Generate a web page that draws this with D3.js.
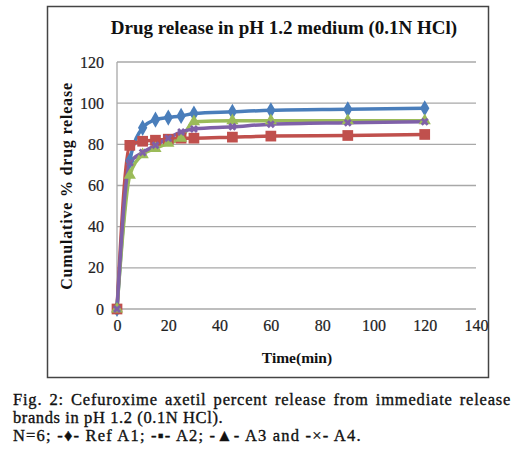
<!DOCTYPE html>
<html><head><meta charset="utf-8">
<script src="https://cdn.jsdelivr.net/npm/d3@7"></script>
<style>body{margin:0;background:#fff;} svg{display:block;}</style>
</head><body>
<script>
const times = [0, 5, 10, 15, 20, 25, 30, 45, 60, 90, 120];
const refA1 = [0, 72, 88, 92, 93, 93.8, 95, 95.8, 96.5, 97, 97.5];
const a2 = [0, 79.5, 81.5, 82, 82.5, 83, 83, 83.5, 84, 84.3, 84.8];
const a3 = [0, 65, 75, 78, 80.5, 83, 91, 91.5, 91.5, 91.5, 91.5];
const a4 = [0, 71, 76, 79.5, 83, 86, 87.5, 88.5, 89.8, 90.5, 91];
const seriesNames = ["Ref A1", "A2", "A3", "A4"];
const colors = ["#4a7ebb", "#c0504d", "#9bbb59", "#7f60a8"];
const yTicks = [0, 20, 40, 60, 80, 100, 120];
const xTicks = [0, 20, 40, 60, 80, 100, 120, 140];

const W = 532, H = 453;
const svg = d3.select("body").append("svg").attr("width", W).attr("height", H);
const serif = "'Liberation Serif','Times New Roman',serif";

svg.append("rect").attr("x", 47.5).attr("y", 6.5).attr("width", 441).attr("height", 371)
  .attr("fill", "#fff").attr("stroke", "#444").attr("stroke-width", 1.5);

const x = d3.scaleLinear().domain([0, 140]).range([117, 476]);
const y = d3.scaleLinear().domain([0, 120]).range([309, 62]);

svg.append("g").selectAll("line").data(yTicks).join("line")
  .attr("x1", x(0)).attr("x2", x(140)).attr("y1", d => y(d)).attr("y2", d => y(d))
  .attr("stroke", "#a8a8a8").attr("stroke-width", 1.3);
svg.append("line").attr("x1", x(0)).attr("x2", x(0)).attr("y1", y(0)).attr("y2", y(120))
  .attr("stroke", "#a8a8a8").attr("stroke-width", 1.3);

const yAxis = svg.append("g").attr("transform", `translate(${x(0)},0)`)
  .call(d3.axisLeft(y).tickValues(yTicks).tickSize(0).tickPadding(13));
const xAxis = svg.append("g").attr("transform", `translate(0,${y(0)})`)
  .call(d3.axisBottom(x).tickValues(xTicks).tickSize(0).tickPadding(11));
[yAxis, xAxis].forEach(a => {
  a.select(".domain").remove();
  a.selectAll("text").attr("font-family", serif).attr("font-size", 16).attr("fill", "#222")
    .attr("stroke", "#222").attr("stroke-width", 0.2);
});

const data = [refA1, a2, a3, a4];
const line = d3.line().x((d, i) => x(times[i])).y(d => y(d)).curve(d3.curveMonotoneX);
data.forEach((s, k) => {
  svg.append("path").datum(s).attr("d", line).attr("fill", "none")
    .attr("stroke", colors[k]).attr("stroke-width", 3.5).attr("stroke-linejoin", "round");
});
const sym = [d3.symbolDiamond, d3.symbolSquare, d3.symbolTriangle, d3.symbolCross];
const sizes = [75, 115, 65, 40];
data.forEach((s, k) => {
  const g = svg.append("g");
  g.selectAll("path").data(s).join("path")
    .attr("transform", (d, i) => `translate(${x(times[i])},${y(d)})` + (k === 3 ? " rotate(45)" : ""))
    .attr("d", d3.symbol().type(sym[k]).size(sizes[k]))
    .attr("fill", colors[k]);
});

svg.append("text").attr("x", 284).attr("y", 34).attr("text-anchor", "middle")
  .attr("font-family", serif).attr("font-weight", "bold").attr("font-size", 19)
  .attr("fill", "#111").text("Drug release in pH 1.2 medium (0.1N HCl)");

svg.append("text").attr("transform", "translate(72,186) rotate(-90)").attr("text-anchor", "middle")
  .attr("font-family", serif).attr("font-weight", "bold").attr("font-size", 16)
  .attr("fill", "#111").attr("letter-spacing", 0.8).text("Cumulative % drug release");

svg.append("text").attr("x", 297).attr("y", 363).attr("text-anchor", "middle")
  .attr("font-family", serif).attr("font-weight", "bold").attr("font-size", 15.5)
  .attr("fill", "#111").text("Time(min)");

const capFont = 16.5;
const cap1 = svg.append("text").attr("x", 13).attr("y", 405)
  .attr("font-family", serif).attr("font-size", capFont).attr("letter-spacing", 0.8)
  .attr("fill", "#111").attr("stroke", "#111").attr("stroke-width", 0.35)
  .text("Fig. 2: Cefuroxime axetil percent release from immediate release");
const len = cap1.node().getComputedTextLength();
cap1.attr("word-spacing", Math.max(0, (496 - len) / 7));
svg.append("text").attr("x", 13).attr("y", 423)
  .attr("font-family", serif).attr("font-size", capFont).attr("letter-spacing", 0.6)
  .attr("fill", "#111").attr("stroke", "#111").attr("stroke-width", 0.35)
  .text("brands in pH 1.2 (0.1N HCl).");
svg.append("text").attr("x", 13).attr("y", 441)
  .attr("font-family", serif).attr("font-size", capFont).attr("letter-spacing", 1.2)
  .attr("fill", "#111").attr("stroke", "#111").attr("stroke-width", 0.35)
  .text(`N=6; -\u2666- ${seriesNames[0]}; -\u25AA- ${seriesNames[1]}; -\u25B2- ${seriesNames[2]} and -\u00D7- ${seriesNames[3]}.`);
</script>
</body></html>
